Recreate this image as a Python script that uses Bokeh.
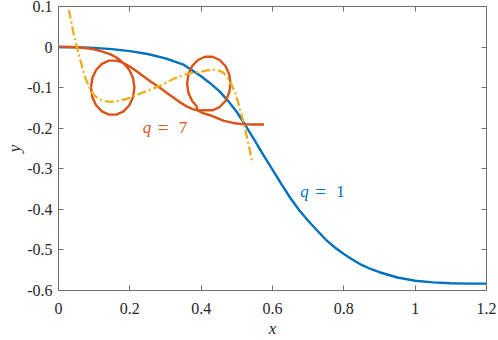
from bokeh.plotting import figure
from bokeh.models import Range1d, LinearAxis, FixedTicker, ColumnDataSource
from bokeh.core.properties import value
from bokeh.embed import file_html
from bokeh.resources import INLINE

# ---------------- data ----------------
x_ticks = [0, 0.2, 0.4, 0.6, 0.8, 1.0, 1.2]
x_tick_labels = ["0", "0.2", "0.4", "0.6", "0.8", "1", "1.2"]
y_ticks = [0.1, 0.0, -0.1, -0.2, -0.3, -0.4, -0.5, -0.6]
y_tick_labels = ["0.1", "0", "-0.1", "-0.2", "-0.3", "-0.4", "-0.5", "-0.6"]

# q = 1 (blue)
q1_x = [0, 0.05, 0.1, 0.15, 0.2, 0.25, 0.3, 0.35, 0.4, 0.425, 0.45, 0.475, 0.5, 0.525,
        0.55, 0.575, 0.6, 0.625, 0.65, 0.675, 0.7, 0.725, 0.75, 0.775, 0.8, 0.825,
        0.85, 0.875, 0.9, 0.95, 1.0, 1.05, 1.1, 1.15, 1.2]
q1_y = [0, -0.0003, -0.002, -0.005, -0.010, -0.017, -0.028, -0.043, -0.072, -0.089,
        -0.108, -0.132, -0.160, -0.194, -0.230, -0.267, -0.302, -0.338, -0.372, -0.402,
        -0.428, -0.452, -0.475, -0.494, -0.510, -0.524, -0.537, -0.547, -0.555, -0.568,
        -0.576, -0.580, -0.582, -0.583, -0.583]

# q = 7 (orange, looped path in drawing order)
q7_x = [0, 0.03, 0.06, 0.09, 0.115, 0.146, 0.165, 0.181,
        0.1911, 0.1986, 0.2092, 0.2128, 0.2092, 0.1986, 0.1824, 0.1626, 0.1414, 0.1216,
        0.1054, 0.0948, 0.0912, 0.0948, 0.1054, 0.1216, 0.1414, 0.1626, 0.1728, 0.181,
        0.200, 0.221, 0.240, 0.258, 0.275, 0.290, 0.305, 0.323, 0.342, 0.361, 0.376, 0.390,
        0.4108, 0.4320, 0.4518, 0.4680, 0.4786, 0.4822, 0.4786, 0.4680, 0.4518, 0.4320,
        0.4108, 0.3910, 0.3748, 0.3642, 0.3606, 0.3642, 0.3748, 0.3865, 0.390,
        0.405, 0.425, 0.445, 0.464, 0.490, 0.515, 0.545, 0.576]
q7_y = [0, 0, -0.001, -0.004, -0.009, -0.018, -0.027, -0.039,
        -0.0483, -0.0566, -0.0769, -0.100, -0.1231, -0.1434, -0.1585, -0.1665, -0.1665,
        -0.1585, -0.1434, -0.1231, -0.100, -0.0769, -0.0566, -0.0415, -0.0335, -0.0335,
        -0.0365, -0.039,
        -0.048, -0.061, -0.073, -0.085, -0.095, -0.104, -0.114, -0.125, -0.137, -0.147,
        -0.153, -0.156,
        -0.1558, -0.1558, -0.1478, -0.1329, -0.1127, -0.0898, -0.0669, -0.0467, -0.0318,
        -0.0238, -0.0238, -0.0318, -0.0467, -0.0669, -0.0898, -0.1127, -0.1329, -0.1447,
        -0.156,
        -0.163, -0.168, -0.175, -0.182, -0.187, -0.190, -0.191, -0.191]

# third curve (yellow dash-dot)
c3_x = [0.029, 0.035, 0.042, 0.050, 0.058, 0.066, 0.076, 0.087, 0.099, 0.113, 0.127,
        0.145, 0.165, 0.19, 0.21, 0.23, 0.26, 0.288, 0.323, 0.36, 0.398, 0.42, 0.436,
        0.450, 0.462, 0.473, 0.484, 0.496, 0.508, 0.520, 0.532, 0.543]
c3_y = [0.092, 0.065, 0.035, 0.005, -0.022, -0.047, -0.078, -0.100, -0.118, -0.128,
        -0.133, -0.135, -0.133, -0.128, -0.122, -0.114, -0.104, -0.094, -0.078, -0.066,
        -0.061, -0.057, -0.056, -0.058, -0.063, -0.074, -0.090, -0.114, -0.150, -0.190,
        -0.236, -0.283]

# annotations
ann_x = [0.236, 0.678]
ann_y = [-0.199, -0.356]
ann_num = ["7", "1"]
ann_color = ["#D95319", "#0072BD"]

# ---------------- figure ----------------
BLUE, ORANGE, YELLOW = "#0072BD", "#D95319", "#EDB120"
AX = "#6e6e6e"
TXT = "#262626"
FONT_TICK = "Liberation Serif"
FONT_AXLAB = "Liberation Serif"
FONT_ANN = "Liberation Serif"

p = figure(width=498, height=340, output_backend="svg", toolbar_location=None,
           x_range=Range1d(0, 1.2), y_range=Range1d(-0.6, 0.1),
           min_border_left=58, min_border_right=12, min_border_top=6, min_border_bottom=48,
           x_axis_location=None, y_axis_location=None)
p.grid.visible = False
p.outline_line_color = None
p.background_fill_color = "white"
p.border_fill_color = "white"


def style_axis(ax, ticks, labels, show):
    ax.ticker = FixedTicker(ticks=ticks)
    ax.axis_line_color = AX
    ax.axis_line_width = 1
    ax.major_tick_line_color = AX
    ax.major_tick_in = 5
    ax.major_tick_out = 0
    ax.minor_tick_line_color = None
    if show:
        ax.major_label_overrides = {t: l for t, l in zip(ticks, labels)}
        ax.major_label_text_font = FONT_TICK
        ax.major_label_text_font_size = "16px"
        ax.major_label_text_color = TXT
        ax.axis_label_text_font = FONT_AXLAB
        ax.axis_label_text_font_style = "italic"
        ax.axis_label_text_font_size = "17px"
        ax.axis_label_text_color = TXT
    else:
        ax.major_label_overrides = {t: "" for t in ticks}
        ax.major_label_standoff = 0


xb = LinearAxis(axis_label="x")
style_axis(xb, x_ticks, x_tick_labels, True)
xb.major_label_standoff = 12
xb.axis_label_standoff = 2
p.add_layout(xb, "below")

yl = LinearAxis(axis_label="y")
style_axis(yl, y_ticks, y_tick_labels, True)
yl.major_label_standoff = 6
yl.axis_label_standoff = 0
p.add_layout(yl, "left")

xt = LinearAxis()
style_axis(xt, x_ticks, x_tick_labels, False)
p.add_layout(xt, "above")

yr = LinearAxis()
style_axis(yr, y_ticks, y_tick_labels, False)
p.add_layout(yr, "right")

p.line(q1_x, q1_y, line_color=BLUE, line_width=2.4)
p.line(q7_x, q7_y, line_color=ORANGE, line_width=2.4, line_join="round")
p.line(c3_x, c3_y, line_color=YELLOW, line_width=2.4, line_dash="9 3 2 3")

src = ColumnDataSource(dict(x=ann_x, y=ann_y, num=ann_num, color=ann_color,
                            q=["q", "q"], eq=["=", "="]))
p.text(x="x", y="y", text="q", source=src, text_color="color", text_font=value(FONT_ANN),
       text_font_style="italic", text_font_size="17px", text_baseline="alphabetic",
       text_align="left")
p.text(x="x", y="y", text="eq", source=src, text_color="color", text_font=value(FONT_ANN),
       text_font_size="19px", text_baseline="alphabetic", text_align="left", x_offset=15)
p.text(x="x", y="y", text="num", source=src, text_color="color", text_font=value(FONT_ANN),
       text_font_size="17px", text_baseline="alphabetic", text_align="left", x_offset=36)

html = file_html(p, INLINE)
html = html.replace("<head>", "<head><style>html,body{margin:0;padding:0;}</style>", 1)
open("out.html", "w").write(html)
